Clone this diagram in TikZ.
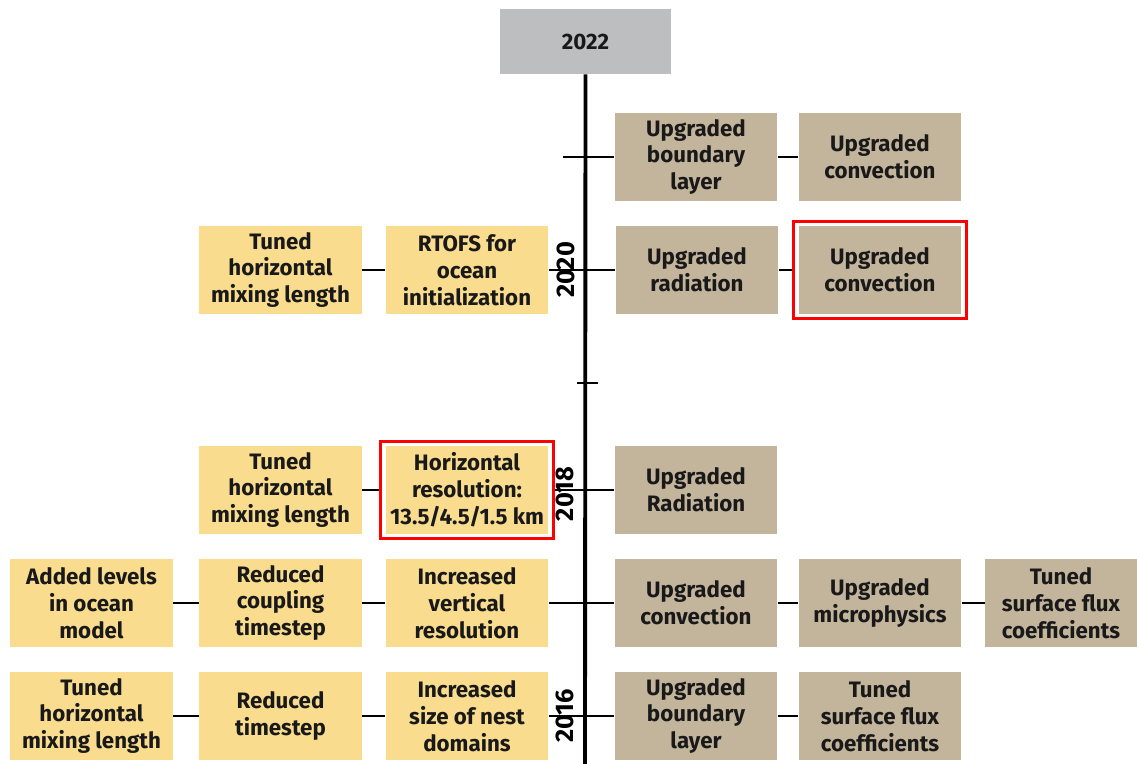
\documentclass[tikz,border=0pt]{standalone}
\usepackage{fontspec}
\setmainfont{Fira Sans}
\usetikzlibrary{fit}
\definecolor{hwrfyellow}{HTML}{F9DC8E}
\definecolor{hmontan}{HTML}{C3B59B}
\definecolor{topgray}{HTML}{BDBEC0}

\begin{document}
\begin{tikzpicture}
  [
    x=0.02cm, y=-0.02cm,
    box/.style={minimum width=3.26cm, minimum height=1.76cm, inner sep=0pt,
      align=center, text=black!90, font=\fontsize{12.7}{15.3}\selectfont\bfseries},
    hwrf/.style={box, fill=hwrfyellow},
    hmon/.style={box, fill=hmontan},
    link/.style={line width=1.5pt},
    redframe/.style={draw=red, line width=1.7pt, inner sep=0.09cm},
    year/.style={rotate=90, font=\fontsize{14.5}{16}\selectfont\bfseries}
  ]
  \useasboundingbox (0,0) rectangle (1137,764);

  % top of the time line
  \node[box, fill=topgray, minimum width=3.42cm, minimum height=1.3cm] (top) at (585.5,41.5) {2022};
  \coordinate (tend) at (585,764);
  \draw[line width=2.2pt] (top.south) -- (tend);

  % right column
  \node[hmon] (r1a) at (696,157) {Upgraded\\boundary\\layer};
  \node[hmon] (r2a) at (880,157) {Upgraded\\convection};
  \node[hmon] (r1b) at (697,270) {Upgraded\\radiation};
  \node[hmon] (r2b) at (880,270) {Upgraded\\convection};
  \node[hmon] (r1c) at (696,490) {Upgraded\\Radiation};
  \node[hmon] (r1d) at (696,603) {Upgraded\\convection};
  \node[hmon] (r2d) at (880,603) {Upgraded\\microphysics};
  \node[hmon, minimum width=3.04cm] (r3d) at (1061,603) {Tuned\\surface flux\\coefficients};
  \node[hmon] (r1e) at (696,716) {Upgraded\\boundary\\layer};
  \node[hmon] (r2e) at (880,716) {Tuned\\surface flux\\coefficients};

  % left column
  \node[hwrf] (l2b) at (280.5,270) {Tuned\\horizontal\\mixing length};
  \node[hwrf] (l3b) at (467,270) {RTOFS for\\ocean\\initialization};
  \node[hwrf] (l2c) at (280.5,490) {Tuned\\horizontal\\mixing length};
  \node[hwrf] (l3c) at (467,490) {Horizontal\\resolution:\\13.5/4.5/1.5 km};
  \node[hwrf] (l1d) at (91.5,603) {Added levels\\in ocean\\model};
  \node[hwrf] (l2d) at (280.5,603) {Reduced\\coupling\\timestep};
  \node[hwrf] (l3d) at (467,603) {Increased\\vertical\\resolution};
  \node[hwrf] (l1e) at (91.5,716) {Tuned\\horizontal\\mixing length};
  \node[hwrf] (l2e) at (280.5,716) {Reduced\\timestep};
  \node[hwrf] (l3e) at (467,716) {Increased\\size of nest\\domains};

  % highlighted changes
  \node[redframe, fit=(r2b)] (hlconv) {};
  \node[redframe, fit=(l3c)] (hlres) {};

  % connectors
  \coordinate (tka) at (563,157);
  \coordinate (tkl) at (577,383);
  \coordinate (tkr) at (598,383);
  \draw[link] (tka) -- (r1a.west);
  \draw[link] (tkl) -- (tkr);
  \foreach \a/\b in {r1a/r2a, l2b/l3b, l3b/r1b, r1b/hlconv, l2c/hlres, hlres/r1c,
    l1d/l2d, l2d/l3d, l3d/r1d, r1d/r2d, r2d/r3d,
    l1e/l2e, l2e/l3e, l3e/r1e, r1e/r2e}
    \draw[link] (\a.east) -- (\b.west);

  % years
  \node[year] (y20) at (566,270) {2020};
  \node[year] (y18) at (565,494) {2018};
  \node[year] (y16) at (565,716) {2016};
\end{tikzpicture}
\end{document}
